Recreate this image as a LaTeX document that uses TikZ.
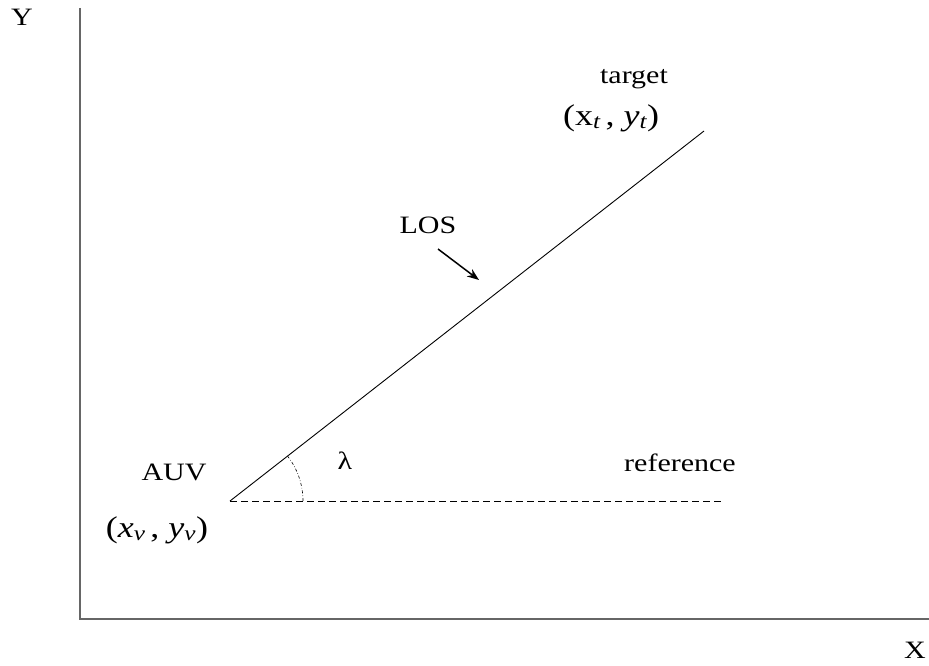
\documentclass[tikz,border=0pt]{standalone}
\usepackage{fontspec}
\setmainfont[FakeStretch=1.2]{Liberation Serif}
\usetikzlibrary{arrows.meta}
\begin{document}
\begin{tikzpicture}[x=1pt,y=-1pt,
  lbl/.style={inner sep=0pt, font=\fontsize{25}{27}\selectfont},
  coordlbl/.style={inner sep=0pt, font=\fontsize{30}{32}\selectfont},
  axis/.style={draw=black!60, line width=1.6pt},
  thin line/.style={line width=0.9pt}]
\useasboundingbox (0,0) rectangle (929,666);
\coordinate (O) at (80,619);
\coordinate (Ytop) at (80,8);
\coordinate (Xend) at (929,619);
\draw[axis] (Ytop) -- (O) -- (Xend);
\node[lbl] (Y) at (22,17) {Y};
\node[lbl] (X) at (915,650) {X};
\coordinate (V) at (230,501);
\coordinate (T) at (704,131);
\coordinate (R) at (724,501);
\draw[thin line] (V) -- (T);
\draw[thin line, dash pattern=on 7pt off 4pt] (V) -- (R);
\draw[line width=0.6pt, dash dot] (V) ++(73,0) arc[start angle=0, end angle=-38, radius=73];
\coordinate (a1) at (438,249);
\coordinate (a2) at (479,280);
\draw[line width=1.5pt, -{Stealth[length=12pt,width=9pt]}] (a1) -- (a2);
\node[lbl] (target) at (634,79) {target};
\node[coordlbl] (tc) at (611,118) {(x\textsubscript{\itshape t}\,, \textit{y}\textsubscript{\itshape t})};
\node[lbl] (LOS) at (428,225) {LOS};
\node[lbl] (lam) at (345,461) {λ};
\node[lbl] (AUV) at (174,472) {AUV};
\node[lbl] (ref) at (680,463) {reference};
\node[coordlbl] (vc) at (157,530) {(\textit{x}\textsubscript{\itshape v}\,, \textit{y}\textsubscript{\itshape v})};
\end{tikzpicture}
\end{document}
